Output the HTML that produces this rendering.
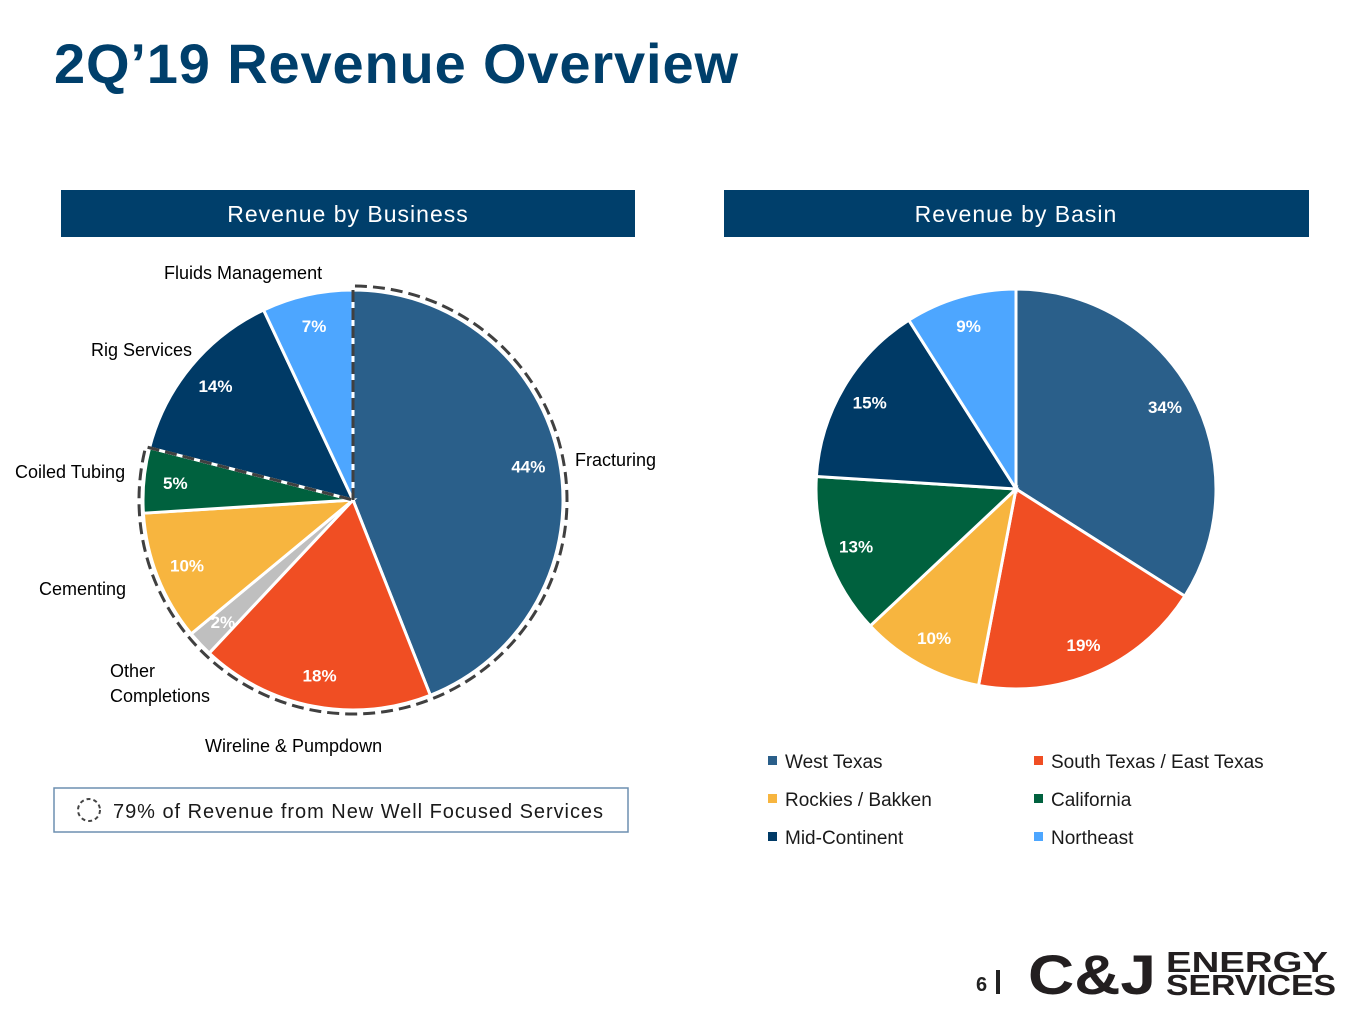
<!DOCTYPE html>
<html><head><meta charset="utf-8"><style>
body{margin:0;width:1365px;height:1024px;background:#fff;overflow:hidden;font-family:"Liberation Sans",sans-serif;}
svg text{font-family:"Liberation Sans",sans-serif;}
</style></head><body>
<svg id="s" width="1365" height="1024" viewBox="0 0 1365 1024">
<text x="54" y="83" font-size="56" font-weight="900" fill="#003f6b" textLength="684">2Q’19 Revenue Overview</text>
<rect x="61" y="190" width="574" height="47" fill="#003f6b"/>
<text x="348" y="222" font-size="23" fill="#fff" text-anchor="middle" letter-spacing="1">Revenue by Business</text>
<rect x="724" y="190" width="585" height="47" fill="#003f6b"/>
<text x="1016" y="222" font-size="23" fill="#fff" text-anchor="middle" letter-spacing="1">Revenue by Basin</text>
<g id="left"></g>
<g id="right"></g>
<g font-size="18" fill="#000">
<text x="164" y="279">Fluids Management</text>
<text x="91" y="356">Rig Services</text>
<text x="15" y="478">Coiled Tubing</text>
<text x="575" y="466">Fracturing</text>
<text x="39" y="595">Cementing</text>
<text x="110" y="677">Other</text>
<text x="110" y="702">Completions</text>
<text x="205" y="752">Wireline &amp; Pumpdown</text>
</g>
<rect x="54" y="788" width="574" height="44" fill="#fff" stroke="#6d8fb0" stroke-width="1.5"/>
<circle cx="89" cy="810" r="11" fill="none" stroke="#444" stroke-width="2" stroke-dasharray="4 3"/>
<text x="113" y="818" font-size="20" fill="#1a1a1a" textLength="490">79% of Revenue from New Well Focused Services</text>
<g id="legend"></g>
<text x="976" y="991" font-size="20" font-weight="900" fill="#222">6</text>
<rect x="996" y="970" width="4" height="24" fill="#222"/>
<text x="1028" y="994" font-size="56" font-weight="900" fill="#231f20" textLength="128" lengthAdjust="spacingAndGlyphs">C&amp;J</text>
<text x="1166" y="972" font-size="29" font-weight="900" fill="#231f20" textLength="162" lengthAdjust="spacingAndGlyphs">ENERGY</text>
<text x="1166" y="995" font-size="29" font-weight="900" fill="#231f20" textLength="170" lengthAdjust="spacingAndGlyphs">SERVICES</text>
</svg>
<script>
const bizCats=["Fracturing","Wireline & Pumpdown","Other Completions","Cementing","Coiled Tubing","Rig Services","Fluids Management"];
const bizVals=[44,18,2,10,5,14,7];
const bizColors=["#2a5f8a","#f04e23","#bfbfbf","#f7b53f","#00613e","#003a66","#4da6ff"];
const basinCats=["West Texas","South Texas / East Texas","Rockies / Bakken","California","Mid-Continent","Northeast"];
const basinVals=[34,19,10,13,15,9];
const basinColors=["#2a5f8a","#f04e23","#f7b53f","#00613e","#003a66","#4da6ff"];
const NS="http://www.w3.org/2000/svg";
function pt(cx,cy,r,f){const a=f*2*Math.PI;return [cx+r*Math.sin(a),cy-r*Math.cos(a)];}
function pie(g,cats,vals,cols,cx,cy,r,pfx){
 const tot=vals.reduce((a,b)=>a+b,0);let c=0;
 vals.forEach((v,i)=>{const f0=c/tot,f1=(c+v)/tot;c+=v;
  const p0=pt(cx,cy,r,f0),p1=pt(cx,cy,r,f1);const large=(f1-f0)>0.5?1:0;
  const p=document.createElementNS(NS,"path");
  p.setAttribute("d",`M${cx},${cy}L${p0[0]},${p0[1]}A${r},${r} 0 ${large} 1 ${p1[0]},${p1[1]}Z`);
  p.setAttribute("fill",cols[i]);p.setAttribute("stroke","#fff");p.setAttribute("stroke-width","3");
  
  
  g.appendChild(p);
  const lp=pt(cx,cy,r*0.85,(f0+f1)/2);
  const t=document.createElementNS(NS,"text");
  t.setAttribute("x",lp[0]);t.setAttribute("y",lp[1]+6);t.setAttribute("text-anchor","middle");
  t.setAttribute("font-size","17");t.setAttribute("font-weight","bold");t.setAttribute("fill","#fff");
  t.textContent=v+"%";
  
  
  g.appendChild(t);
 });
 return tot;
}
const L=document.getElementById("left");
const tot=pie(L,bizCats,bizVals,bizColors,353,500,210,"business");
const share=bizVals.slice(0,5).reduce((a,b)=>a+b,0)/tot;
const R=214,a1=pt(353,500,R,share);
const d=document.createElementNS(NS,"path");
d.setAttribute("d",`M353,500L353,${500-R}A${R},${R} 0 ${share>0.5?1:0} 1 ${a1[0]},${a1[1]}L353,500`);
d.setAttribute("fill","none");d.setAttribute("stroke","#404040");d.setAttribute("stroke-width","3");d.setAttribute("stroke-dasharray","12 6");


L.appendChild(d);
pie(document.getElementById("right"),basinCats,basinVals,basinColors,1016,489,200,"basin");
const lg=document.getElementById("legend");
basinCats.forEach((c,i)=>{const x=i%2?1034:768,y=761+Math.floor(i/2)*38;
 const r=document.createElementNS(NS,"rect");r.setAttribute("x",x);r.setAttribute("y",y-5);r.setAttribute("width",9);r.setAttribute("height",9);r.setAttribute("fill",basinColors[i]);
 
 
 lg.appendChild(r);
 const t=document.createElementNS(NS,"text");t.setAttribute("x",x+17);t.setAttribute("y",y+7);t.setAttribute("font-size","19");t.setAttribute("fill","#1a1a1a");t.textContent=c;
 
 
 lg.appendChild(t);});
</script>
</body></html>
